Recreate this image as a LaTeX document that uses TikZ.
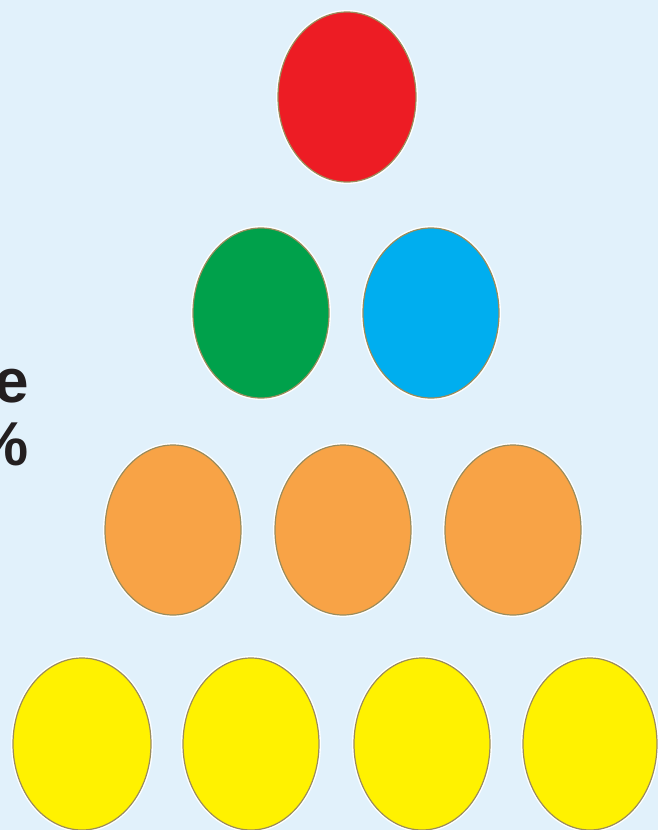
\documentclass[tikz,border=0pt]{standalone}
\usepackage{fontspec}
\setmainfont{Liberation Sans}
\definecolor{bg}{HTML}{E1F1FB}
\definecolor{cred}{HTML}{ED1C24}
\definecolor{cgreen}{HTML}{00A14B}
\definecolor{cblue}{HTML}{00AEEF}
\definecolor{corange}{HTML}{F8A346}
\definecolor{cyellow}{HTML}{FFF200}
\definecolor{rim}{HTML}{9A8C5C}
\definecolor{txt}{HTML}{231F20}
\tikzset{
  ball/.style={draw=rim, line width=1.2pt, preaction={draw=white, line width=4pt}},
  lbl/.style={font=\fontsize{62}{62}\selectfont\bfseries, text=txt, inner sep=0pt, anchor=base east}
}
\begin{document}
\begin{tikzpicture}[x=1pt,y=-1pt]
\fill[bg] (0,0) rectangle (658,830);
\useasboundingbox (0,0) rectangle (658,830);
\begin{scope}
\clip (0,0) rectangle (658,830);
\path[ball, fill=cred] (347,97) ellipse [x radius=69, y radius=85];
\path[ball, fill=cgreen] (261,313) ellipse [x radius=68, y radius=85];
\path[ball, fill=cblue] (431,313) ellipse [x radius=68, y radius=85];
\path[ball, fill=corange] (173,530) ellipse [x radius=68, y radius=85];
\path[ball, fill=corange] (343,530) ellipse [x radius=68, y radius=85];
\path[ball, fill=corange] (513,530) ellipse [x radius=68, y radius=85];
\path[ball, fill=cyellow] (82,744) ellipse [x radius=69, y radius=86];
\path[ball, fill=cyellow] (251,744) ellipse [x radius=68, y radius=86];
\path[ball, fill=cyellow] (422,744) ellipse [x radius=68, y radius=86];
\path[ball, fill=cyellow] (590,744) ellipse [x radius=67, y radius=86];
\node[lbl] (e) at (29,402) {e};
\node[lbl] (pc) at (29,465) {\%};
\end{scope}
\end{tikzpicture}
\end{document}
